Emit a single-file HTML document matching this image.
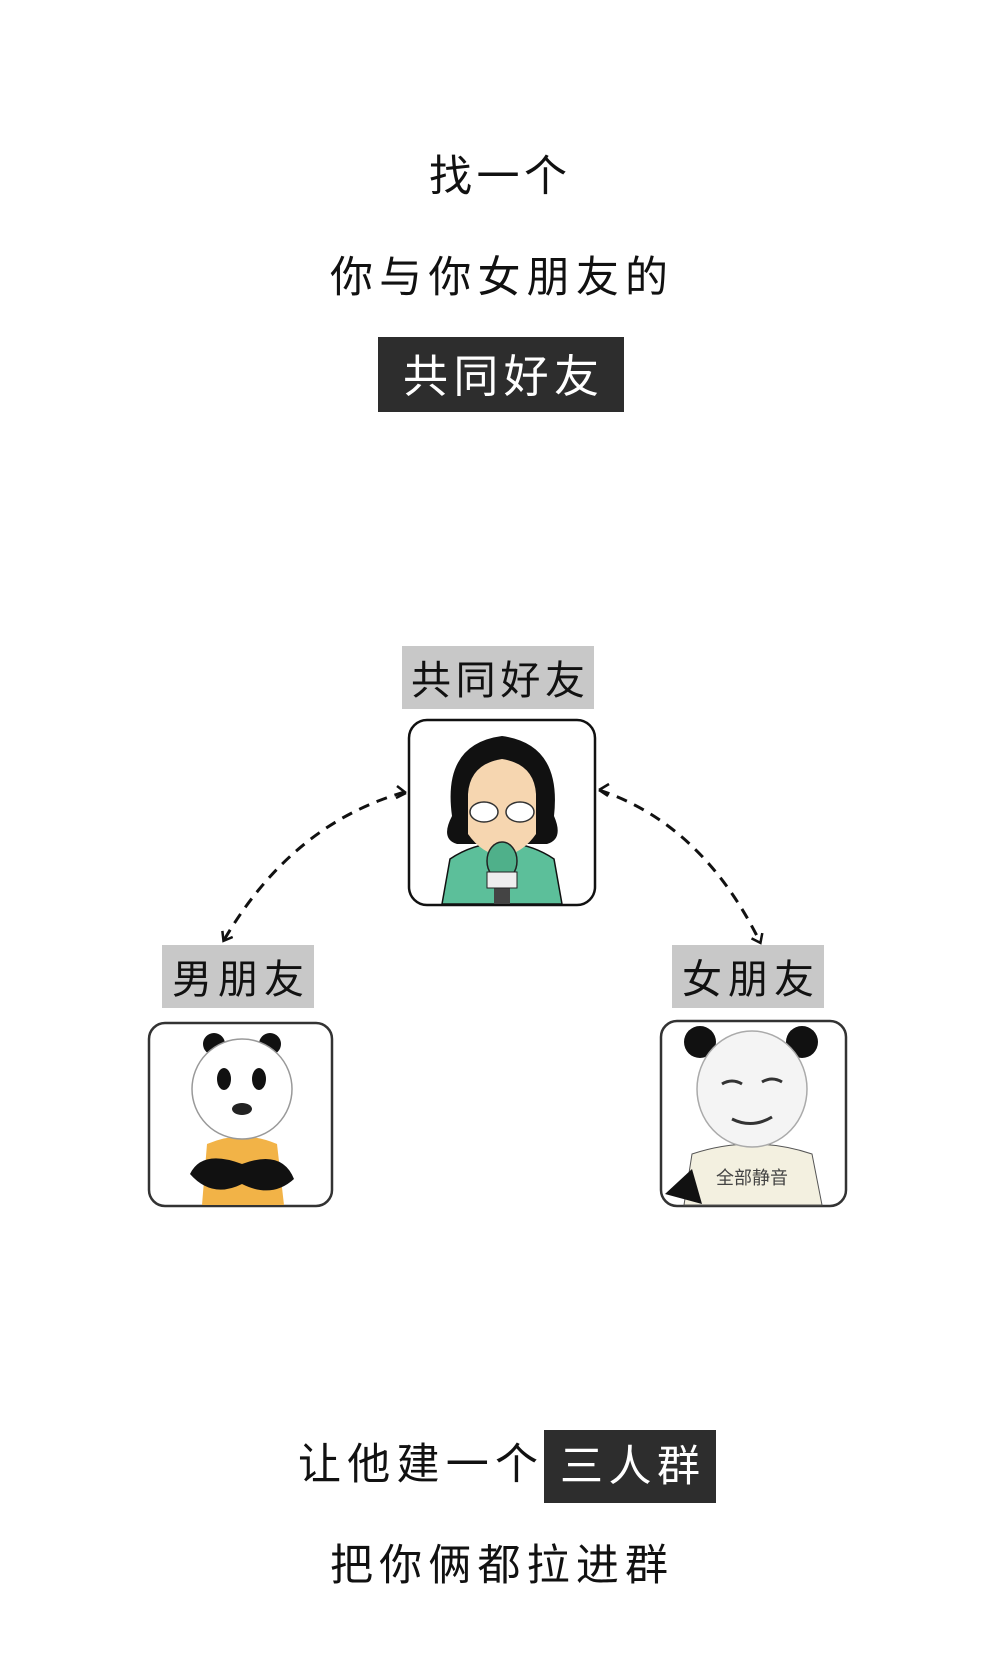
<!DOCTYPE html>
<html><head><meta charset="utf-8"><style>
html,body{margin:0;padding:0;background:#fff;}
svg{display:block;}
text{font-family:"Liberation Sans","Noto Sans CJK SC",sans-serif;}
</style></head><body>
<svg width="1000" height="1675" viewBox="0 0 1000 1675" xmlns="http://www.w3.org/2000/svg">
<defs>
<marker id="ah" markerWidth="14" markerHeight="14" refX="9" refY="7" orient="auto" markerUnits="userSpaceOnUse">
<path d="M2,1 L10,7 L2,13" fill="none" stroke="#111" stroke-width="2.5"/>
</marker>
</defs>
<g transform="translate(2,4)">
<text x="496" y="187" font-size="43" text-anchor="middle" fill="#111" textLength="138" lengthAdjust="spacing">找一个</text>
<text x="497" y="288" font-size="43" text-anchor="middle" fill="#111" textLength="338" lengthAdjust="spacing">你与你女朋友的</text>
<rect x="376" y="333" width="246" height="75" fill="#2d2d2d"/>
<text x="499" y="388" font-size="45" text-anchor="middle" fill="#fff" textLength="196" lengthAdjust="spacing">共同好友</text>

<rect x="400" y="642" width="192" height="63" fill="#c8c8c8"/>
<text x="496" y="690" font-size="40" text-anchor="middle" fill="#111" textLength="174" lengthAdjust="spacing">共同好友</text>
<rect x="160" y="941" width="152" height="63" fill="#c8c8c8"/>
<text x="236" y="989" font-size="40" text-anchor="middle" fill="#111" textLength="132" lengthAdjust="spacing">男朋友</text>
<rect x="670" y="941" width="152" height="63" fill="#c8c8c8"/>
<text x="746" y="989" font-size="40" text-anchor="middle" fill="#111" textLength="132" lengthAdjust="spacing">女朋友</text>

<path d="M403,788 Q290,820 222,936" fill="none" stroke="#111" stroke-width="3" stroke-dasharray="11,8" marker-end="url(#ah)"/>
<path d="M404,789 l-9,-7 M404,789 l-10,5" stroke="#111" stroke-width="2.5" fill="none"/>
<path d="M597,786 Q700,820 758,938" fill="none" stroke="#111" stroke-width="3" stroke-dasharray="11,8" marker-end="url(#ah)"/>
<path d="M597,786 l10,-6 M597,786 l9,6" stroke="#111" stroke-width="2.5" fill="none"/>

<rect x="407" y="716" width="186" height="185" rx="18" fill="#fff" stroke="#111" stroke-width="2.5"/>
<g>
<path d="M440,900 L448,855 Q470,840 500,838 Q530,840 552,855 L560,900 Z" fill="#5cbf9a" stroke="#111" stroke-width="1.5"/>
<path d="M450,812 Q440,740 500,732 Q560,740 552,812 Q562,835 545,840 L455,840 Q438,835 450,812 Z" fill="#111"/>
<path d="M466,790 Q468,760 500,755 Q532,760 534,790 L534,830 Q520,850 500,852 Q480,850 466,830 Z" fill="#f6d6b0"/>
<ellipse cx="482" cy="808" rx="14" ry="10" fill="#fff" stroke="#333" stroke-width="1.5"/>
<ellipse cx="518" cy="808" rx="14" ry="10" fill="#fff" stroke="#333" stroke-width="1.5"/>
<rect x="492" y="860" width="16" height="40" fill="#444"/>
<ellipse cx="500" cy="857" rx="15" ry="19" fill="#4fb08a" stroke="#222" stroke-width="1.5"/>
<rect x="485" y="868" width="30" height="16" fill="#eee" stroke="#222"/>
</g>

<rect x="147" y="1019" width="183" height="183" rx="16" fill="#fff" stroke="#333" stroke-width="2.5"/>
<g>
<path d="M200,1201 L205,1140 Q240,1125 275,1140 L282,1201 Z" fill="#f2b347"/>
<circle cx="212" cy="1040" r="11" fill="#111"/>
<circle cx="268" cy="1040" r="11" fill="#111"/>
<ellipse cx="240" cy="1085" rx="50" ry="50" fill="#fff" stroke="#999" stroke-width="1.5"/>
<ellipse cx="222" cy="1075" rx="7" ry="11" fill="#111"/>
<ellipse cx="257" cy="1075" rx="7" ry="11" fill="#111"/>
<ellipse cx="240" cy="1105" rx="10" ry="6" fill="#222"/>
<path d="M188,1170 Q200,1145 240,1160 Q280,1145 292,1175 Q270,1195 240,1180 Q210,1195 188,1170 Z" fill="#111"/>
</g>

<rect x="659" y="1017" width="185" height="185" rx="16" fill="#fff" stroke="#333" stroke-width="2.5"/>
<g>
<path d="M682,1201 L690,1150 Q750,1130 810,1150 L820,1201 Z" fill="#f3f0e0" stroke="#555" stroke-width="1"/>
<path d="M663,1190 L690,1165 L700,1200 Z" fill="#111"/>
<circle cx="698" cy="1038" r="16" fill="#111"/>
<circle cx="800" cy="1038" r="16" fill="#111"/>
<ellipse cx="750" cy="1085" rx="55" ry="58" fill="#f4f4f4" stroke="#aaa" stroke-width="1.5"/>
<path d="M720,1080 q10,-6 20,0 M760,1078 q10,-6 20,0" stroke="#333" stroke-width="3" fill="none"/>
<path d="M730,1115 q20,10 40,-2" stroke="#333" stroke-width="3" fill="none"/>
<text x="750" y="1180" font-size="18" text-anchor="middle" fill="#444">全部静音</text>
</g>

<text x="416" y="1475" font-size="43" text-anchor="middle" fill="#111" textLength="240" lengthAdjust="spacing">让他建一个</text>
<rect x="542" y="1426" width="172" height="73" fill="#2d2d2d"/>
<text x="628" y="1477" font-size="43" text-anchor="middle" fill="#fff" textLength="140" lengthAdjust="spacing">三人群</text>
<text x="497" y="1576" font-size="43" text-anchor="middle" fill="#111" textLength="338" lengthAdjust="spacing">把你俩都拉进群</text>
</g>
</svg>
</body></html>
